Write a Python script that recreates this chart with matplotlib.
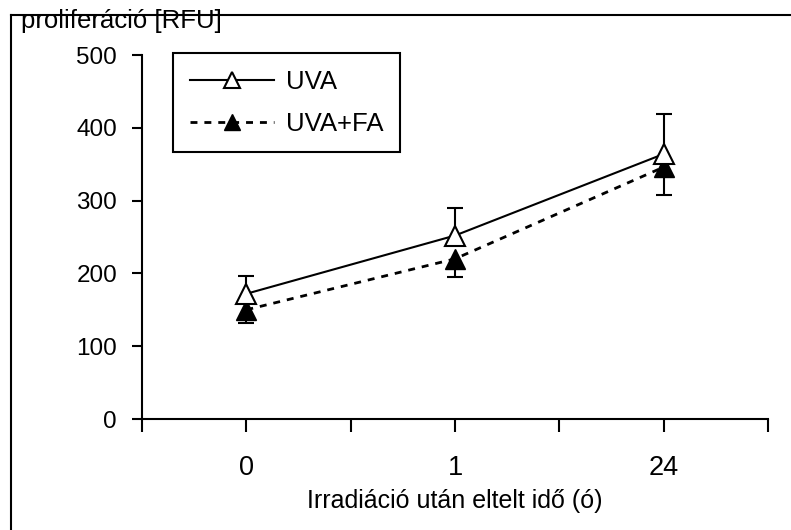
import matplotlib.pyplot as plt
from matplotlib.lines import Line2D

plt.rcParams['font.family'] = ['Liberation Sans', 'DejaVu Sans']

categories = ['0', '1', '24']
uva = [172, 252, 364]
uva_err = [25, 38, 55]
uva_fa = [150, 220, 346]
uva_fa_err = [18, 25, 38]

x = list(range(len(categories)))

fig = plt.figure(figsize=(7.91, 5.30), dpi=100)
ax = fig.add_axes([142 / 791, 1 - 419 / 530, (768 - 142) / 791, (419 - 55) / 530])

# error bars: UVA upward only, UVA+FA downward only
eb1 = ax.errorbar(x, uva, yerr=[[0] * 3, uva_err], fmt='none', ecolor='black',
                  capsize=6, capthick=1.5, elinewidth=1.5, zorder=2)
eb1[1][0].set_visible(False)
eb2 = ax.errorbar(x, uva_fa, yerr=[uva_fa_err, [0] * 3], fmt='none', ecolor='black',
                  capsize=6, capthick=1.5, elinewidth=1.5, zorder=2)
eb2[1][1].set_visible(False)

ax.plot(x, uva_fa, color='black', lw=2, ls=(0, (2.5, 2.5)), marker='^', ms=15,
        mfc='black', mec='black', label='UVA+FA', zorder=3)
ax.plot(x, uva, color='black', lw=1.5, marker='^', ms=15, mfc='white', mec='black',
        mew=1.5, label='UVA', zorder=4)

ax.set_xlim(-0.5, 2.5)
ax.set_ylim(0, 500)
ax.set_yticks(range(0, 501, 100))
ax.set_xticks([-0.5, 0, 0.5, 1, 1.5, 2, 2.5])
ax.set_xticklabels(['', '0', '', '1', '', '24', ''])
ax.tick_params(axis='both', direction='out', width=1.5, color='black')
ax.tick_params(axis='y', length=7, pad=11, labelsize=17.5)
ax.tick_params(axis='x', length=9, pad=17, labelsize=19.5)
for s in ['top', 'right']:
    ax.spines[s].set_visible(False)
for s in ['left', 'bottom']:
    ax.spines[s].set_linewidth(1.5)

ax.set_xlabel('Irradiáció után eltelt idő (ó)', fontsize=18, labelpad=6)

handles, labels = ax.get_legend_handles_labels()
leg = ax.legend(handles[::-1], labels[::-1], loc='upper left',
                bbox_to_anchor=(173 / 791, 1 - 53 / 530),
                bbox_transform=fig.transFigure, borderaxespad=0, fontsize=18.5,
                fancybox=False, edgecolor='black', framealpha=1, markerscale=0.8,
                handlelength=3.3, handletextpad=0.45, borderpad=0.65, labelspacing=0.7)
leg.get_frame().set_linewidth(1.5)

# outer chart border and y-axis title
fig.add_artist(Line2D([11 / 791, 11 / 791], [0, 1 - 15 / 530], color='black', lw=1.5,
                      transform=fig.transFigure))
fig.add_artist(Line2D([11 / 791, 1], [1 - 15 / 530, 1 - 15 / 530], color='black', lw=1.5,
                      transform=fig.transFigure))
fig.text(21 / 791, 1 - 28 / 530, 'proliferáció [RFU]', fontsize=18.5)

plt.savefig('out.png', dpi=100)
